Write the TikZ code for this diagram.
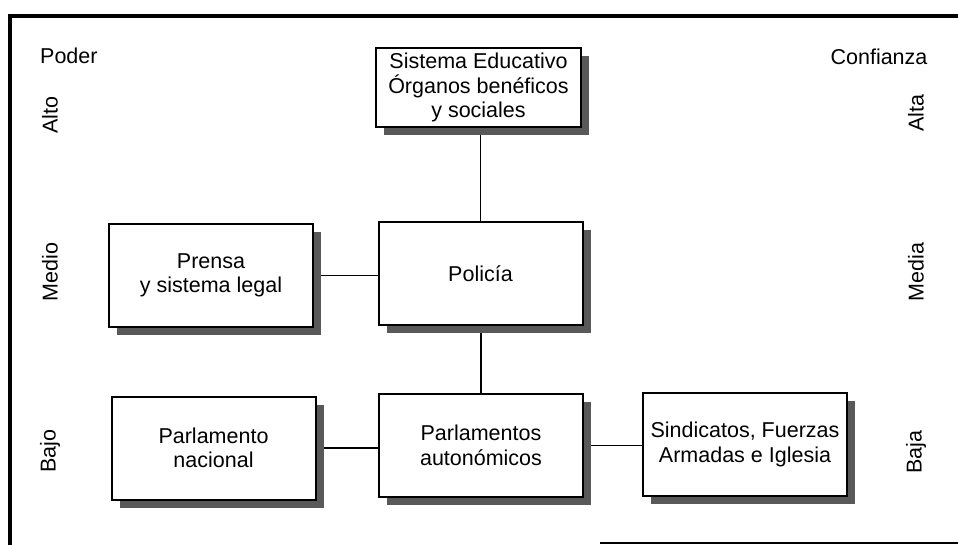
\documentclass[tikz,border=0pt]{standalone}
\usepackage{fontspec}
\setmainfont{Liberation Sans}
\usetikzlibrary{shadows,backgrounds}
\begin{document}
\begin{tikzpicture}[x=1pt,y=-1pt,
  box/.style={draw=black, line width=2pt, fill=white, align=center,
    minimum width=204pt, minimum height=103pt, inner sep=2pt,
    font=\fontsize{21.5}{24.5}\selectfont,
    drop shadow={shadow xshift=8pt, shadow yshift=-8pt, fill=black!65, opacity=1}},
  lab/.style={font=\fontsize{21.5}{24.5}\selectfont, inner sep=0pt},
  conn/.style={line width=1.8pt},
  frame/.style={line width=3.5pt}]
\useasboundingbox (0,0) rectangle (958,545);
% frame
\draw[frame] (958,16) -- (10,16) -- (10,545);
\draw[line width=2.5pt] (600,543) -- (958,543);
% boxes
\node[box, minimum width=205pt, minimum height=79pt] (edu) at (478.5,87.5) {Sistema Educativo\\Órganos benéficos\\y sociales};
\node[box] (pol) at (480.5,273.5) {Policía};
\node[box] (pren) at (211,275.5) {Prensa\\y sistema legal};
\node[box] (nac) at (213.5,448) {Parlamento\\nacional};
\node[box] (aut) at (481,445.5) {Parlamentos\\autonómicos};
\node[box] (sin) at (745,444.5) {Sindicatos, Fuerzas\\Armadas e Iglesia};
% connectors
\begin{scope}[on background layer]
\draw[conn] (pol.center) -- (pol.center |- edu.center);
\draw[conn] (pren.center) -- (pren.center -| pol.center);
\draw[conn] (aut.center) -- (aut.center |- pol.center);
\draw[conn] (nac.center) -- (nac.center -| aut.center);
\draw[conn] (aut.center) -- (aut.center -| sin.center);
\end{scope}
% axis labels
\node[lab, anchor=west] (poder) at (40,56) {Poder};
\node[lab, rotate=90] (alto) at (50,115) {Alto};
\node[lab, rotate=90] (medio) at (50,272) {Medio};
\node[lab, rotate=90] (bajo) at (50,451) {Bajo};
\node[lab] (conf) at (879,57) {Confianza};
\node[lab, rotate=90] (alta) at (916,113) {Alta};
\node[lab, rotate=90] (media) at (916,272) {Media};
\node[lab, rotate=90] (baja) at (916,452) {Baja};
\end{tikzpicture}
\end{document}
